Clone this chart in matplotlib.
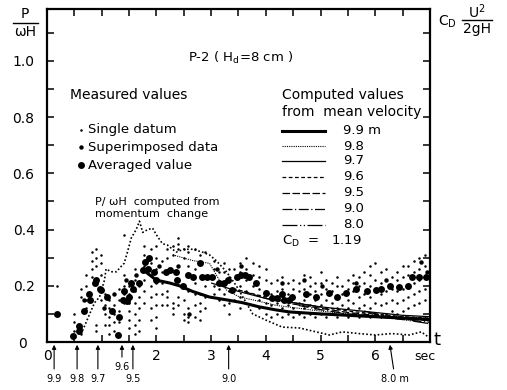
import matplotlib
matplotlib.use('Agg')
import matplotlib.pyplot as plt
from matplotlib.lines import Line2D
from matplotlib.transforms import ScaledTranslation

# ---------------- data ----------------
# averaged values (large dots)
avg_t = [0.19, 0.47, 0.58, 0.58, 0.67, 0.76, 0.79, 0.87, 0.90, 0.96, 0.99, 1.09, 1.19,
         1.31, 1.29, 1.38, 1.41, 1.49, 1.47, 1.58, 1.54, 1.69, 1.75, 1.80, 1.85, 1.87,
         1.96, 2.00, 2.18, 2.24, 2.36, 2.38, 2.48, 2.58, 2.66, 2.79, 2.84, 2.93, 3.02,
         3.15, 3.24, 3.30, 3.39, 3.48, 3.55, 3.61, 3.70, 3.82, 4.00, 4.12, 4.20, 4.30,
         4.34, 4.43, 4.48, 4.74, 4.92, 5.16, 5.30, 5.47, 5.65, 5.84, 6.02, 6.11, 6.26,
         6.44, 6.59, 6.68, 6.80, 6.93]
avg_y = [0.10, 0.02, 0.057, 0.04, 0.11, 0.17, 0.15, 0.21, 0.22, 0.19, 0.185, 0.16, 0.11,
         0.09, 0.025, 0.15, 0.18, 0.16, 0.145, 0.19, 0.21, 0.21, 0.255, 0.285, 0.26, 0.30,
         0.25, 0.22, 0.25, 0.255, 0.25, 0.22, 0.20, 0.24, 0.23, 0.28, 0.23, 0.23, 0.23,
         0.21, 0.21, 0.22, 0.185, 0.23, 0.24, 0.24, 0.23, 0.21, 0.175, 0.155, 0.155, 0.17,
         0.15, 0.15, 0.16, 0.17, 0.16, 0.175, 0.16, 0.175, 0.19, 0.18, 0.185, 0.19, 0.20,
         0.195, 0.20, 0.23, 0.23, 0.23]

# superimposed data (medium dots)
sup_t = [0.67, 1.05, 1.23, 1.45, 1.62, 2.05, 2.40, 2.60, 3.10, 3.55, 4.30, 4.70, 5.03,
         5.65, 6.20, 6.84, 6.95]
sup_y = [0.15, 0.12, 0.17, 0.22, 0.24, 0.27, 0.27, 0.10, 0.26, 0.27, 0.21, 0.22, 0.20,
         0.21, 0.22, 0.285, 0.25]

# single data (small dots), given column by column: time and the values at that time
single_cols = [
    (0.19, [0.20]),
    (0.50, [0.04, 0.07, 0.10]),
    (0.62, [0.03, 0.05, 0.16, 0.19]),
    (0.72, [0.12, 0.15, 0.20, 0.24]),
    (0.82, [0.23, 0.26, 0.29, 0.32]),
    (0.90, [0.04, 0.06, 0.27, 0.30, 0.33]),
    (0.99, [0.15, 0.19, 0.24, 0.28, 0.31]),
    (1.06, [0.06, 0.10, 0.13, 0.17]),
    (1.14, [0.03, 0.06, 0.09, 0.12, 0.15]),
    (1.23, [0.04, 0.07, 0.10, 0.13]),
    (1.32, [0.07, 0.11, 0.15, 0.19]),
    (1.41, [0.14, 0.17, 0.20, 0.24, 0.38]),
    (1.50, [0.05, 0.08, 0.11, 0.14, 0.17, 0.20]),
    (1.60, [0.03, 0.06, 0.10, 0.14, 0.18, 0.22, 0.26]),
    (1.69, [0.04, 0.08, 0.12, 0.16, 0.20]),
    (1.78, [0.14, 0.18, 0.22, 0.27, 0.31, 0.34]),
    (1.90, [0.08, 0.12, 0.16, 0.20, 0.24, 0.28, 0.33]),
    (2.00, [0.05, 0.09, 0.13, 0.17, 0.21, 0.26, 0.30, 0.34]),
    (2.10, [0.13, 0.17, 0.21, 0.25, 0.29]),
    (2.20, [0.13, 0.16, 0.18, 0.30, 0.33]),
    (2.30, [0.10, 0.12, 0.14, 0.31, 0.34]),
    (2.39, [0.13, 0.16, 0.33, 0.35, 0.37]),
    (2.50, [0.08, 0.10, 0.15, 0.30, 0.33]),
    (2.58, [0.07, 0.09, 0.12, 0.18, 0.27, 0.32, 0.34]),
    (2.70, [0.09, 0.13, 0.17, 0.21, 0.26, 0.33]),
    (2.79, [0.08, 0.11, 0.14, 0.17, 0.31]),
    (2.88, [0.12, 0.16, 0.20, 0.32]),
    (3.06, [0.17, 0.20, 0.23, 0.26, 0.29]),
    (3.15, [0.15, 0.19, 0.25]),
    (3.24, [0.13, 0.17, 0.21, 0.25, 0.28]),
    (3.33, [0.10, 0.14, 0.18, 0.23, 0.26]),
    (3.42, [0.15, 0.19, 0.26]),
    (3.52, [0.12, 0.16, 0.20, 0.25, 0.28]),
    (3.64, [0.18, 0.22, 0.26, 0.30]),
    (3.76, [0.13, 0.20, 0.24, 0.28]),
    (3.88, [0.12, 0.15, 0.19, 0.23, 0.27]),
    (4.00, [0.10, 0.14, 0.18, 0.22, 0.26]),
    (4.10, [0.09, 0.13, 0.17, 0.21]),
    (4.20, [0.10, 0.14, 0.18, 0.22]),
    (4.30, [0.09, 0.12, 0.15, 0.19, 0.23]),
    (4.40, [0.10, 0.13, 0.17, 0.21]),
    (4.50, [0.09, 0.12, 0.16, 0.19, 0.22]),
    (4.60, [0.10, 0.14, 0.18, 0.21]),
    (4.70, [0.09, 0.12, 0.15, 0.19, 0.24]),
    (4.80, [0.10, 0.13, 0.17, 0.20, 0.23]),
    (4.90, [0.09, 0.12, 0.15, 0.18, 0.21]),
    (5.00, [0.10, 0.13, 0.17, 0.21, 0.25]),
    (5.10, [0.09, 0.12, 0.15, 0.19, 0.22]),
    (5.20, [0.10, 0.14, 0.18, 0.21]),
    (5.30, [0.09, 0.12, 0.16, 0.20, 0.23]),
    (5.40, [0.10, 0.13, 0.17, 0.20]),
    (5.50, [0.09, 0.12, 0.15, 0.19, 0.22]),
    (5.60, [0.10, 0.14, 0.18, 0.21, 0.24]),
    (5.70, [0.09, 0.12, 0.16, 0.20, 0.23]),
    (5.80, [0.10, 0.13, 0.17, 0.21, 0.25]),
    (5.90, [0.09, 0.12, 0.16, 0.20, 0.24, 0.27]),
    (6.00, [0.10, 0.14, 0.18, 0.22, 0.28]),
    (6.10, [0.09, 0.13, 0.17, 0.21, 0.25]),
    (6.20, [0.10, 0.14, 0.18, 0.22, 0.26]),
    (6.30, [0.11, 0.15, 0.19, 0.23]),
    (6.40, [0.10, 0.14, 0.18, 0.22, 0.25]),
    (6.50, [0.11, 0.15, 0.19, 0.23, 0.27]),
    (6.60, [0.12, 0.16, 0.20, 0.24, 0.27]),
    (6.70, [0.13, 0.17, 0.21, 0.25, 0.29]),
    (6.80, [0.14, 0.18, 0.22, 0.26, 0.30]),
    (6.90, [0.15, 0.19, 0.23, 0.27, 0.31]),
]

# P/wH computed from momentum change (dotted curve)
mom_t = [0.65, 0.78, 0.87, 0.96, 1.05, 1.08, 1.17, 1.27, 1.36, 1.41, 1.47, 1.54, 1.63,
         1.69, 1.75, 1.84, 1.93, 2.02, 2.11, 2.20, 2.36, 2.50, 2.66, 2.84, 2.97, 3.09,
         3.28, 3.46, 3.64, 3.76, 4.00, 4.30, 4.61, 4.92, 5.16, 5.40, 5.70, 6.00, 6.30,
         6.62, 6.84, 6.97]
mom_y = [0.04, 0.10, 0.14, 0.16, 0.22, 0.26, 0.25, 0.25, 0.27, 0.28, 0.32, 0.37, 0.40,
         0.43, 0.39, 0.40, 0.405, 0.375, 0.35, 0.345, 0.32, 0.33, 0.33, 0.32, 0.31, 0.29,
         0.25, 0.20, 0.14, 0.10, 0.078, 0.053, 0.05, 0.036, 0.025, 0.036, 0.03, 0.025,
         0.03, 0.025, 0.036, 0.018]

# computed values from mean velocity (one line per position)
comp_labels = ['9.9 m', '9.8', '9.7', '9.6', '9.5', '9.0', '8.0']
comp_t = [
    [1.80, 2.00, 2.24, 2.42, 2.66, 2.97, 3.28, 3.57, 3.88, 4.19, 4.43, 5.0, 5.5, 6.0, 6.5, 7.0],
    [2.30, 2.66, 2.97, 3.12, 3.28, 3.52, 3.76, 4.2, 4.6, 5.0, 5.5, 6.0, 6.5, 7.0],
    [3.00, 3.50, 4.00, 4.50, 5.00, 5.50, 6.00, 6.50, 7.00],
    [3.40, 4.00, 4.50, 5.00, 5.50, 6.00, 6.50, 7.00],
    [3.60, 4.00, 4.50, 5.00, 5.50, 6.00, 6.50, 7.00],
    [4.60, 5.00, 5.50, 6.00, 6.50, 7.00],
    [5.80, 6.00, 6.50, 7.00],
]
comp_y = [
    [0.25, 0.22, 0.21, 0.20, 0.18, 0.16, 0.15, 0.14, 0.125, 0.114, 0.107, 0.10, 0.095, 0.09, 0.085, 0.08],
    [0.31, 0.29, 0.28, 0.23, 0.185, 0.16, 0.15, 0.13, 0.12, 0.11, 0.10, 0.095, 0.09, 0.085],
    [0.21, 0.18, 0.155, 0.14, 0.125, 0.115, 0.105, 0.095, 0.09],
    [0.19, 0.16, 0.14, 0.125, 0.11, 0.10, 0.09, 0.085],
    [0.18, 0.155, 0.135, 0.12, 0.105, 0.095, 0.085, 0.075],
    [0.13, 0.115, 0.10, 0.09, 0.08, 0.07],
    [0.11, 0.10, 0.08, 0.065],
]

# positions marked by arrows under the time axis
arrow_labels = ['9.9', '9.8', '9.7', '9.6', '9.5', '9.0', '8.0 m']
arrow_t = [0.13, 0.55, 0.93, 1.37, 1.57, 3.32, 6.26]

x_ticks = [0, 0.5, 1, 1.5, 2, 2.5, 3, 3.5, 4, 4.5, 5, 5.5, 6, 6.5]
x_ticklabels = ['0', '', '', '', '2', '', '3', '', '4', '', '5', '', '6', '']
y_ticks = [0, 0.1, 0.2, 0.3, 0.4, 0.5, 0.6, 0.7, 0.8, 0.9, 1.0, 1.1]
y_ticklabels = ['0', '', '0.2', '', '0.4', '', '0.6', '', '0.8', '', '1.0', '']

# ---------------- styles ----------------
comp_styles = [
    dict(lw=2.2, ls='-'),
    dict(lw=0.8, ls=(0, (1, 1))),
    dict(lw=0.9, ls='-'),
    dict(lw=0.9, ls=(0, (3, 2))),
    dict(lw=0.9, ls=(0, (6, 2))),
    dict(lw=0.9, ls=(0, (8, 2, 1, 2))),
    dict(lw=0.9, ls=(0, (12, 2, 1, 2, 1, 2))),
]

W, H = 507, 390
def fx(x):
    return x / W
def fy(y):
    return 1 - y / H

plt.rcParams['font.family'] = ['DejaVu Sans']
fig = plt.figure(figsize=(W / 100, H / 100), dpi=100)
ax = fig.add_axes([fx(47), fy(342), (430 - 47) / W, (342 - 9) / H])
ax.set_xlim(0, 7)
ax.set_ylim(0, 1.185)

for t, y, st in zip(comp_t, comp_y, comp_styles):
    ax.plot(t, y, color='black', solid_capstyle='butt', **st)

ax.plot(mom_t, mom_y, color='black', lw=1.2, ls=(0, (1, 1.3)))

st_t = [c[0] for c in single_cols for _ in c[1]]
st_y = [v for c in single_cols for v in c[1]]
ax.plot(st_t, st_y, 'o', ms=1.8, color='black', mew=0)
ax.plot(sup_t, sup_y, 'o', ms=3.2, color='black', mew=0)
ax.plot(avg_t, avg_y, 'o', ms=5.0, color='black', mew=0)

for sp in ax.spines.values():
    sp.set_linewidth(1.6)

ax.set_xticks(x_ticks)
ax.set_xticklabels(x_ticklabels, fontsize=10)
ax.set_yticks(y_ticks)
ax.set_yticklabels(y_ticklabels, fontsize=10)
ax.tick_params(direction='in', length=5, width=1.1, top=True, right=True,
               labelright=False, labeltop=False)
ax.tick_params(axis='y', pad=9)
ax.tick_params(axis='x', pad=5)
lab0 = ax.get_yticklabels()[0]
lab0.set_transform(lab0.get_transform() + ScaledTranslation(-8 / 100, 0, fig.dpi_scale_trans))

# arrows under time axis
for lab, t in zip(arrow_labels, arrow_t):
    off = -18 if lab == '9.6' else -26.5
    dx = 4 if lab == '8.0 m' else 0
    ax.annotate(lab, xy=(t, 0), xycoords=('data', 'axes fraction'),
                xytext=(dx, off), textcoords='offset points', ha='center', va='center',
                fontsize=7,
                arrowprops=dict(arrowstyle='-|>', lw=0.8, color='black', shrinkA=1.5,
                                shrinkB=2, mutation_scale=6))

fig.text(fx(437), fy(340), 't', fontsize=13, ha='center', va='center')
fig.text(fx(425), fy(356), 'sec', fontsize=9, ha='center', va='center')

# axis titles (fractions)
fig.text(fx(25), fy(14), 'P', fontsize=10, ha='center', va='center')
fig.add_artist(Line2D([fx(13), fx(38)], [fy(23), fy(23)], color='black', lw=1))
fig.text(fx(25), fy(32), 'ωH', fontsize=10, ha='center', va='center')

fig.text(fx(447), fy(22), r'C$_\mathregular{D}$', fontsize=10, ha='center', va='center')
fig.text(fx(477), fy(12), r'U$^\mathregular{2}$', fontsize=10, ha='center', va='center')
fig.add_artist(Line2D([fx(462), fx(492)], [fy(20), fy(20)], color='black', lw=1))
fig.text(fx(477), fy(29), '2gH', fontsize=10, ha='center', va='center')

# annotations inside
fig.text(fx(188), fy(58), r'P-2 ( H$_\mathregular{d}$=8 cm )', fontsize=9.5, ha='left', va='center')
fig.text(fx(70), fy(95), 'Measured values', fontsize=10, ha='left', va='center')
for yy, ms, txt in [(130, 1.8, 'Single datum'), (147, 3.2, 'Superimposed data'),
                    (165, 5.0, 'Averaged value')]:
    fig.add_artist(Line2D([fx(81)], [fy(yy)], marker='o', ms=ms, color='black', mew=0))
    fig.text(fx(88), fy(yy), txt, fontsize=9.5, ha='left', va='center')

fig.text(fx(95), fy(202), 'P/ ωH  computed from', fontsize=8, ha='left', va='center')
fig.text(fx(95), fy(214), 'momentum  change', fontsize=8, ha='left', va='center')

fig.text(fx(282), fy(95), 'Computed values', fontsize=10, ha='left', va='center')
fig.text(fx(282), fy(112), 'from  mean velocity', fontsize=10, ha='left', va='center')
row_y = [131, 146, 161, 177, 193, 209, 225]
for lab, st, yy in zip(comp_labels, comp_styles, row_y):
    fig.add_artist(Line2D([fx(282), fx(325)], [fy(yy), fy(yy)], color='black', **st))
    fig.text(fx(343), fy(yy), lab, fontsize=9.5, ha='left', va='center')
fig.text(fx(282), fy(241), r'C$_\mathregular{D}$  =   1.19', fontsize=9.5, ha='left', va='center')

fig.savefig('out.png', dpi=100)
